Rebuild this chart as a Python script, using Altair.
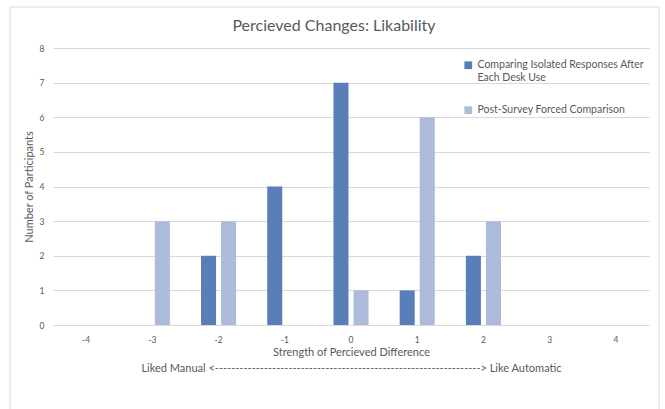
import altair as alt
import pandas as pd

# Strength of perceived difference (negative = liked manual, positive = liked automatic)
strength = [-4, -3, -2, -1, 0, 1, 2, 3, 4]
isolated = [0, 0, 2, 4, 7, 1, 2, 0, 0]
forced = [0, 3, 3, 0, 1, 6, 3, 0, 0]

series_names = [
    "Comparing Isolated Responses After Each Desk Use",
    "Post-Survey Forced Comparison",
]
series_colors = ["#5a7fb8", "#abbbd9"]

rows = []
for s, a, b in zip(strength, isolated, forced):
    rows.append({"strength": s, "series": series_names[0], "count": a})
    rows.append({"strength": s, "series": series_names[1], "count": b})
df = pd.DataFrame(rows)

FONT = "Lato"
GREY = "#595959"
LINE = "#d9d9d9"

x_title = [
    "Strength of Percieved Difference",
    "Liked Manual <" + "-" * 65 + "> Like Automatic",
]

bars = alt.Chart(df).mark_bar().encode(
    x=alt.X(
        "strength:O",
        scale=alt.Scale(domain=strength, paddingInner=0.47, paddingOuter=0.235),
        axis=alt.Axis(
            title=x_title,
            labelAngle=0,
            labelFontSize=8.5,
            labelPadding=10,
            titleFontSize=11,
            titleFontWeight="normal",
            titlePadding=3,
            titleLineHeight=16,
            ticks=False,
            domainColor=LINE,
            grid=False,
        ),
    ),
    xOffset=alt.XOffset(
        "series:N",
        sort=series_names,
        scale=alt.Scale(paddingInner=0.25, paddingOuter=0),
    ),
    y=alt.Y(
        "count:Q",
        scale=alt.Scale(domain=[0, 8]),
        axis=alt.Axis(
            title="Number of Participants",
            values=list(range(0, 9)),
            labelFontSize=8.5,
            labelPadding=9,
            titleFontSize=11,
            titleFontWeight="normal",
            titlePadding=5,
            ticks=False,
            domain=False,
            gridColor=LINE,
        ),
    ),
    color=alt.Color(
        "series:N",
        sort=series_names,
        scale=alt.Scale(domain=series_names, range=series_colors),
        legend=alt.Legend(
            title=None,
            orient="none",
            legendX=410,
            legendY=12,
            symbolType="square",
            symbolSize=60,
            symbolStrokeWidth=0,
            labelFontSize=10.5,
            labelColor=GREY,
            labelFont=FONT,
            labelLimit=300,
            rowPadding=21,
            labelExpr="datum.label == '" + series_names[0] + "' ? ['Comparing Isolated Responses After', 'Each Desk Use'] : datum.label",
        ),
    ),
)

# Thin grey frame around the whole chart area
frame = alt.Chart(alt.Data(values=[{}])).mark_rect(
    fill=None, stroke=LINE, strokeWidth=1
).encode(
    x=alt.value(-43), x2=alt.value(606), y=alt.value(-41), y2=alt.value(420)
)

chart = (
    alt.layer(frame, bars)
    .properties(
        width=596,
        height=277,
        title=alt.TitleParams(
            "Percieved Changes: Likability",
            fontSize=16,
            fontWeight="normal",
            color=GREY,
            font=FONT,
            anchor="middle",
            frame="group",
            dx=-17,
            offset=-27,
        ),
        autosize=alt.AutoSizeParams(type="none"),
        padding={"left": 53, "top": 48, "right": 16, "bottom": 84},
    )
    .configure(font=FONT, background="white")
    .configure_axis(labelColor=GREY, titleColor=GREY, labelFont=FONT, titleFont=FONT)
    .configure_view(stroke=None)
)

chart.save("out.html", embed_options={"renderer": "svg", "actions": False})
